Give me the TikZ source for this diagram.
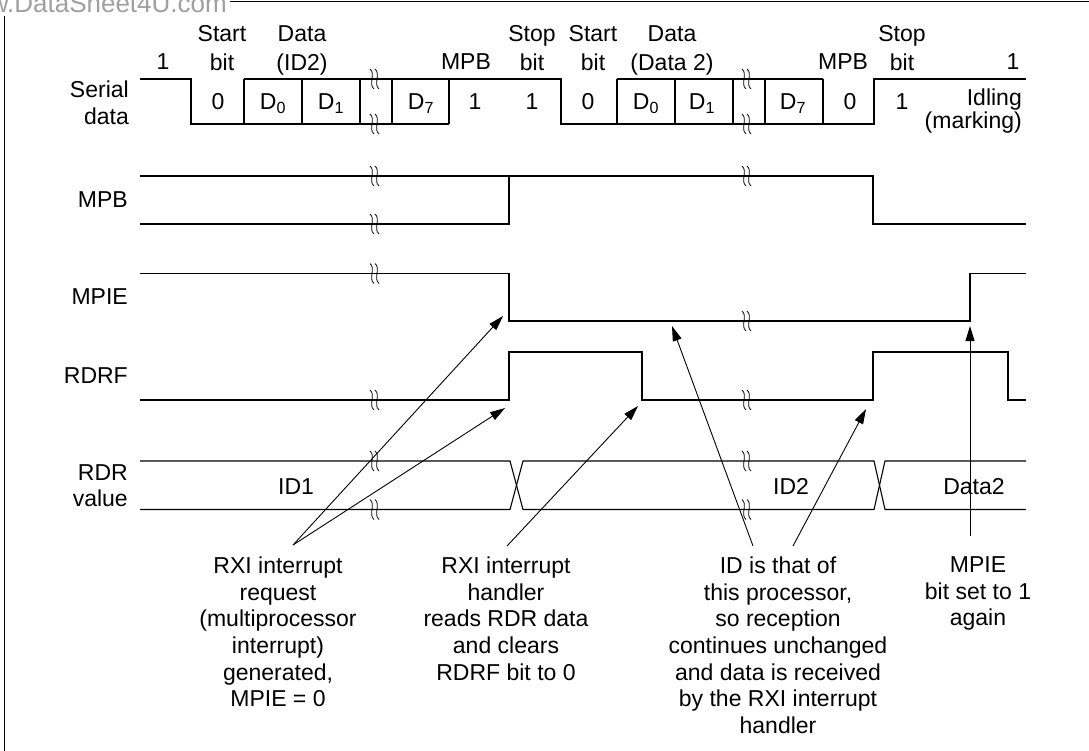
\documentclass[tikz,border=0pt]{standalone}
\usepackage{fontspec}
\setmainfont{Liberation Sans}
\usetikzlibrary{arrows.meta}
\begin{document}
\begin{tikzpicture}[x=1pt,y=-1pt,
  wave/.style={line width=1.1pt},
  lbl/.style={inner sep=0pt, font=\fontsize{23}{29}\selectfont, align=center},
  val/.style={inner sep=0pt, font=\fontsize{23}{29}\selectfont, anchor=base},
  ann/.style={inner sep=0pt, font=\fontsize{23}{26.7}\selectfont, align=center, anchor=north},
  sig/.style={inner sep=0pt, font=\fontsize{23}{26}\selectfont, align=right, anchor=east},
  arr/.style={line width=0.9pt, -{Triangle[length=15pt,width=9pt]}},
  brk/.pic={
    \draw[line width=0.8pt] (-5,-10) .. controls (1,-5) and (-7,5) .. (-1,10);
    \draw[line width=0.8pt] (0,-10) .. controls (6,-5) and (-2,5) .. (4,10);
  }
]
\useasboundingbox (0,0) rectangle (1089,751);

% watermark and frame
\node[text=gray!75, font=\fontsize{26}{26}\selectfont, inner sep=0pt, anchor=base east] (wm) at (227,13) {w.DataSheet4U.com};
\draw[line width=1pt] (230,2) -- (1089,2);
\draw[line width=1pt] (4,16) -- (4,751);

% signal names
\node[sig, font=\fontsize{23}{27}\selectfont] (nser) at (129,102.5) {Serial\\data};
\node[sig] (nmpb) at (128,200) {MPB};
\node[sig] (nmpie) at (128,297) {MPIE};
\node[sig] (nrdrf) at (128,376) {RDRF};
\node[sig] (nrdr) at (128,485.5) {RDR\\value};

% serial data waveform
\draw[wave] (140,79) -- (191,79) -- (191,124) -- (449,124);
\draw[wave] (244,79) -- (561,79) -- (561,124) -- (874,124) -- (874,79) -- (1026,79);
\draw[wave] (617,79) -- (823,79);
\foreach \x in {244,302,360,392,449,617,675,733,765,823}
  \draw[wave] (\x,79) -- (\x,124);
\foreach \x in {375,747} {
  \pic at (\x,79) {brk};
  \pic at (\x,124) {brk};
}

% top labels
\node[lbl] (l1) at (163,62) {1};
\node[lbl, anchor=north] (lst1) at (222,25) {Start\\bit};
\node[lbl, anchor=north] (ld1) at (302,25) {Data\\(ID2)};
\node[lbl] (lmpb1) at (466,62) {MPB};
\node[lbl, anchor=north] (lsp1) at (532,25) {Stop\\bit};
\node[lbl, anchor=north] (lst2) at (593,25) {Start\\bit};
\node[lbl, anchor=north] (ld2) at (672,25) {Data\\(Data 2)};
\node[lbl] (lmpb2) at (843,62) {MPB};
\node[lbl, anchor=north] (lsp2) at (902,25) {Stop\\bit};
\node[lbl] (l2) at (1013,62) {1};

% bit values
\node[val] (v1) at (218,110) {0};
\node[val] (v2) at (273,110) {D\textsubscript{0}};
\node[val] (v3) at (331,110) {D\textsubscript{1}};
\node[val] (v4) at (421,110) {D\textsubscript{7}};
\node[val] (v5) at (475,110) {1};
\node[val] (v6) at (532,110) {1};
\node[val] (v7) at (588,110) {0};
\node[val] (v8) at (646,110) {D\textsubscript{0}};
\node[val] (v9) at (702,110) {D\textsubscript{1}};
\node[val] (v10) at (793,110) {D\textsubscript{7}};
\node[val] (v11) at (850,110) {0};
\node[val] (v12) at (902,110) {1};
\node[inner sep=0pt, font=\fontsize{23}{23}\selectfont, align=right, anchor=north east] (idl) at (1022,88.6) {Idling\\(marking)};

% MPB
\draw[wave] (140,176) -- (873,176) -- (873,224) -- (1026,224);
\draw[wave] (140,224) -- (509,224) -- (509,176);
\pic at (375,176) {brk};
\pic at (375,224) {brk};
\pic at (747,176) {brk};

% MPIE
\draw[wave] (140,273.5) -- (509,273.5) -- (509,321) -- (970,321) -- (970,273.5) -- (1026,273.5);
\pic at (375,273.5) {brk};
\pic at (747,321) {brk};

% RDRF
\draw[wave] (140,400) -- (509,400) -- (509,352) -- (642,352) -- (642,400) -- (873,400) -- (873,352) -- (1008,352) -- (1008,400) -- (1026,400);
\pic at (375,400) {brk};
\pic at (747,400) {brk};

% RDR
\draw[wave] (140,461) -- (510,461) -- (523,509.5) -- (874,509.5) -- (885,461) -- (1026,461);
\draw[wave] (140,509.5) -- (510,509.5) -- (523,461) -- (874,461) -- (885,509.5) -- (1026,509.5);
\foreach \x in {375,747} {
  \pic at (\x,461) {brk};
  \pic at (\x,509.5) {brk};
}
\node[val] (id1) at (296,494) {ID1};
\node[val] (id2) at (791,494) {ID2};
\node[val] (dat2) at (974,494) {Data2};

% annotations
\node[ann] (a1) at (278,556.5) {RXI interrupt\\request\\(multiprocessor\\interrupt)\\generated,\\MPIE = 0};
\node[ann] (a2) at (506,556.5) {RXI interrupt\\handler\\reads RDR data\\and clears\\RDRF bit to 0};
\node[ann] (a3) at (778,556.5) {ID is that of\\this processor,\\so reception\\continues unchanged\\and data is received\\by the RXI interrupt\\handler};
\node[ann] (a4) at (978,556.5) {MPIE\\bit set to 1\\again};

% arrows
\coordinate (s1) at (293,545);
\coordinate (t1) at (503,316);
\coordinate (t2) at (505,408);
\coordinate (s3) at (507,546);
\coordinate (t3) at (638,406);
\coordinate (s4) at (753,546);
\coordinate (t4) at (672,326);
\coordinate (s5) at (793,546);
\coordinate (t5) at (866,409);
\coordinate (s6) at (970,536);
\coordinate (t6) at (970,326);
\draw[arr] (s1) -- (t1);
\draw[arr] (s1) -- (t2);
\draw[arr] (s3) -- (t3);
\draw[arr] (s4) -- (t4);
\draw[arr] (s5) -- (t5);
\draw[arr] (s6) -- (t6);
\end{tikzpicture}
\end{document}
